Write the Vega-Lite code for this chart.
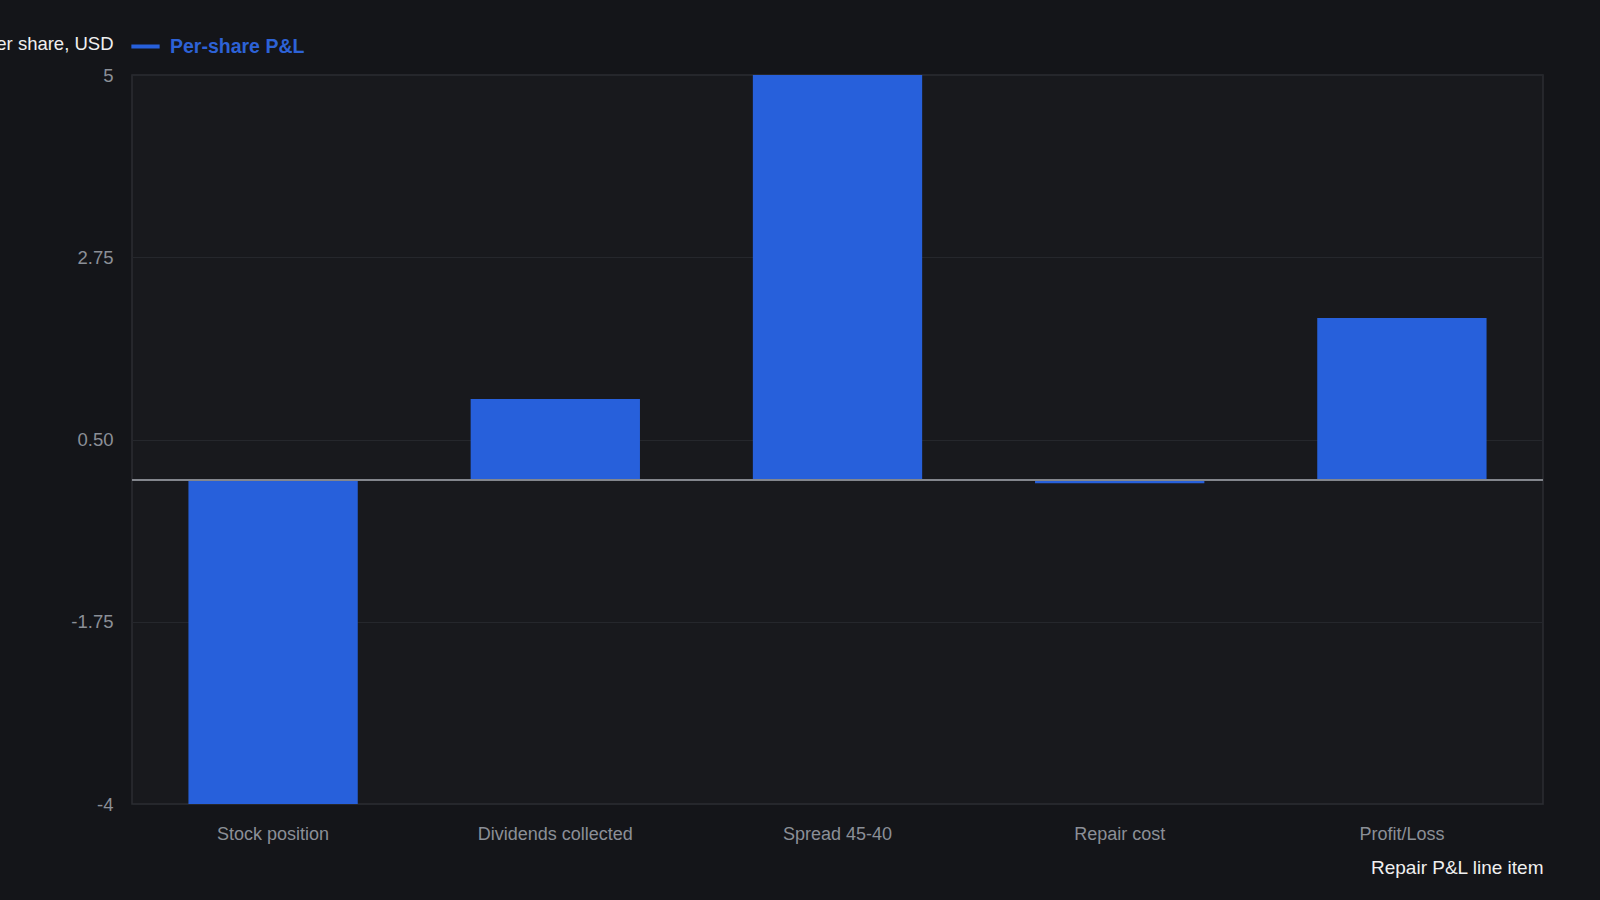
{
  "$schema": "https://vega.github.io/schema/vega-lite/v6.json",
  "description": "Per-share P&L of a stock repair trade, by line item.",
  "width": 1411,
  "height": 729,
  "autosize": {"type": "none"},
  "padding": {"left": 132, "top": 75, "right": 57, "bottom": 96},
  "background": "#141519",
  "data": {
    "values": [
      {"item": "Stock position", "pnl": -4, "series": "Per-share P&L"},
      {"item": "Dividends collected", "pnl": 1, "series": "Per-share P&L"},
      {"item": "Spread 45-40", "pnl": 5, "series": "Per-share P&L"},
      {"item": "Repair cost", "pnl": -0.04, "series": "Per-share P&L"},
      {"item": "Profit/Loss", "pnl": 2, "series": "Per-share P&L"}
    ]
  },
  "layer": [
    {
      "mark": {"type": "bar"},
      "encoding": {
        "x": {
          "field": "item",
          "type": "nominal",
          "sort": null,
          "title": "Repair P&L line item",
          "scale": {"paddingInner": 0.4, "paddingOuter": 0.2},
          "axis": {
            "labelAngle": 0,
            "ticks": false,
            "domain": false,
            "grid": false,
            "labelPadding": 21,
            "labelColor": "#8b8f97",
            "labelFontSize": 18,
            "titleColor": "#f0f0f0",
            "titleFontSize": 19,
            "titleFontWeight": "normal",
            "titleAnchor": "end",
            "titlePadding": 15
          }
        },
        "y": {
          "field": "pnl",
          "type": "quantitative",
          "title": "Per share, USD",
          "scale": {"domain": [-4, 5], "nice": false, "zero": false},
          "axis": {
            "values": [-4, -1.75, 0.5, 2.75, 5],
            "labelExpr": "datum.value == 0.5 ? '0.50' : '' + datum.value",
            "ticks": false,
            "domain": false,
            "gridColor": "#25272c",
            "gridWidth": 1,
            "labelPadding": 19,
            "labelColor": "#8b8f97",
            "labelFontSize": 18.5,
            "titleAngle": 0,
            "titleAlign": "right",
            "titleBaseline": "middle",
            "titleX": -19,
            "titleY": -32,
            "titleColor": "#f0f0f0",
            "titleFontSize": 18.5,
            "titleFontWeight": "normal"
          }
        },
        "color": {
          "field": "series",
          "type": "nominal",
          "scale": {"range": ["#2760db"]},
          "legend": {
            "title": null,
            "orient": "none",
            "legendX": -3,
            "legendY": -45,
            "padding": 0,
            "symbolType": "stroke",
            "symbolStrokeWidth": 4,
            "symbolSize": 800,
            "symbolStrokeColor": "#2760db",
            "labelColor": "#2d62d6",
            "labelFontSize": 19.5,
            "labelFontWeight": "bold",
            "labelOffset": 8
          }
        }
      }
    },
    {
      "data": {"values": [{"zero": 0}]},
      "mark": {"type": "rule", "color": "#83868d", "strokeWidth": 2},
      "encoding": {"y": {"field": "zero", "type": "quantitative"}}
    }
  ],
  "config": {
    "font": "Liberation Sans",
    "view": {"fill": "#18191d", "stroke": "#2b2d32", "strokeWidth": 1.5}
  }
}
